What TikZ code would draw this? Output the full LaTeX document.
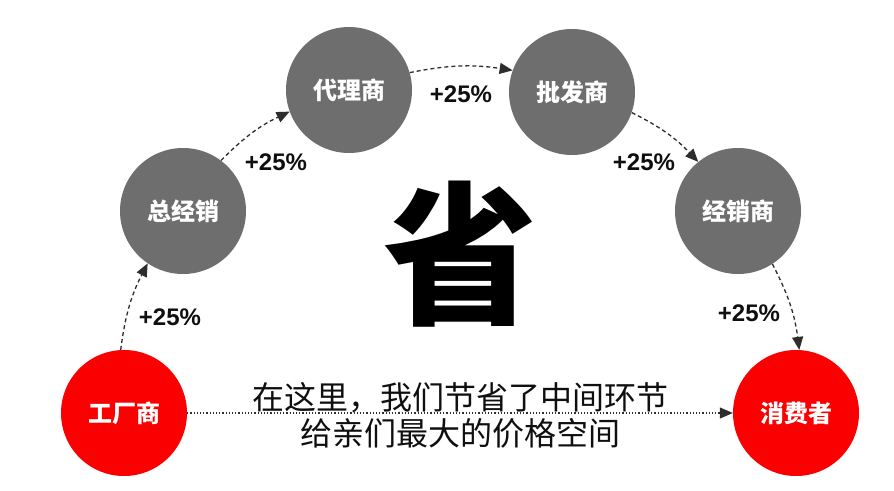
\documentclass[tikz,border=0pt]{standalone}
\usepackage{fontspec}
\setmainfont{Liberation Sans}
\newfontfamily\cjk{Noto Sans CJK SC}
\usetikzlibrary{arrows.meta}
\definecolor{stagec}{RGB}{110,110,110}
\definecolor{endc}{RGB}{250,0,0}
\definecolor{linec}{RGB}{45,45,45}
\definecolor{inkc}{RGB}{15,15,15}
\tikzset{
  stage/.style={
    circle, draw=none, fill=stagec, minimum size=126pt, inner sep=0pt,
    text=white, font=\cjk\bfseries\fontsize{24}{28}\selectfont
  },
  endpt/.style={stage, fill=endc},
  hop/.style={-{Triangle[length=13pt, width=11pt]}, line width=1.3pt, draw=linec,
              dash pattern=on 4pt off 3pt, bend left=10},
  direct/.style={-{Triangle[length=13pt, width=11pt]}, line width=1.1pt, draw=linec,
                 dash pattern=on 1.2pt off 2pt},
  pct/.style={font=\bfseries\fontsize{24}{28}\selectfont, text=inkc, inner sep=0pt},
  saved/.style={font=\cjk\fontsize{32}{36}\selectfont, text=inkc, align=center, inner sep=0pt},
  bigword/.style={font=\cjk\bfseries\fontsize{154}{154}\selectfont, text=black, inner sep=0pt},
}

\begin{document}
\begin{tikzpicture}[x=1pt, y=-1pt]

  \fill[white] (0,0) rectangle (894,490);

  \node[endpt] (factory)   at (124,413) {工厂商};
  \node[stage] (general)   at (183,211) {总经销};
  \node[stage] (agent)     at (349,90)  {代理商};
  \node[stage] (wholesale) at (572,92)  {批发商};
  \node[stage] (dealer)    at (738,211) {经销商};
  \node[endpt] (consumer)  at (796,413) {消费者};

  % each middleman adds a quarter
  \draw[hop] (factory.93)    to (general.236);
  \draw[hop] (general.53)    to (agent.200);
  \draw[hop] (agent.16)      to (wholesale.160);
  \draw[hop] (wholesale.341) to (dealer.129);
  \draw[hop] (dealer.303)    to (consumer.87);

  \node[pct] (pct1) at (170,317) {+25\%};
  \node[pct] (pct2) at (276,162) {+25\%};
  \node[pct] (pct3) at (461,94)  {+25\%};
  \node[pct] (pct4) at (644,162) {+25\%};
  \node[pct] (pct5) at (749,313) {+25\%};

  \node[bigword] (save) at (460,254) {省};

  \draw[direct] (factory.east) -- (consumer.west);
  \node[saved] (savetext) at (460,415) {在这里，我们节省了中间环节\\给亲们最大的价格空间};

\end{tikzpicture}
\end{document}
